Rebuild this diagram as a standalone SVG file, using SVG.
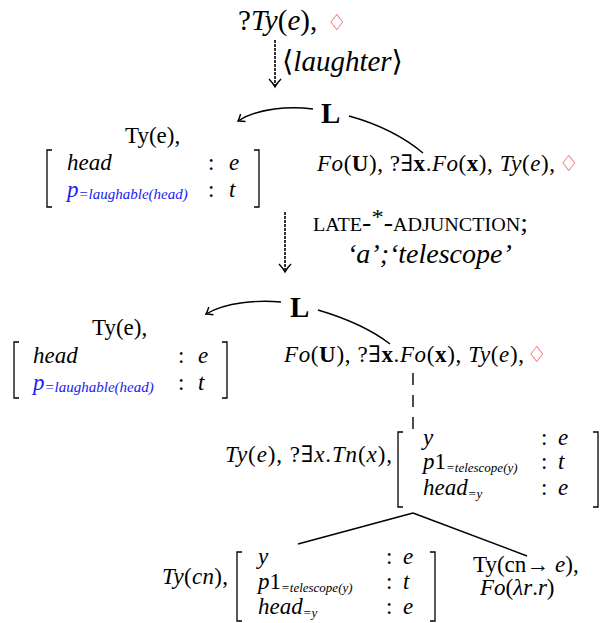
<svg xmlns="http://www.w3.org/2000/svg" width="603" height="623" viewBox="0 0 603 623">
<defs>
<style>
.t{font-family:"Liberation Serif","Times New Roman","DejaVu Serif",serif;font-size:23px;fill:#000}
.big{font-size:29px}
.i{font-style:italic}
.b{font-weight:bold}
.s{font-size:15px;font-style:italic}
.s2{font-size:13px;font-style:italic}
.blue{fill:#2020f0}
.dia{font-family:"DejaVu Sans",sans-serif;font-size:22px;fill:#ee1111}
.L{font-family:"Liberation Serif",serif;font-weight:bold;font-size:29px}
.sc{font-variant:small-caps;font-size:25px}
.br{fill:none;stroke:#000;stroke-width:1.3}
.ln{fill:none;stroke:#000;stroke-width:1.4}
.dash{fill:none;stroke:#000;stroke-width:1.6;stroke-dasharray:3 1}
</style>
<marker id="ah" markerWidth="12" markerHeight="12" refX="0" refY="0" viewBox="-8 -6 10 12" orient="auto" markerUnits="userSpaceOnUse">
<path d="M-6,-4.5 Q-2,-1 0,0 Q-2,1 -6,4.5" fill="none" stroke="#000" stroke-width="1.4"/>
</marker>
</defs>

<g id="n-top">
<text class="t big" x="238" y="30">?<tspan class="i">Ty</tspan>(<tspan class="i">e</tspan>),</text>
<text class="dia" x="327" y="30">♢</text>
</g>

<g id="step1">
<text class="t big" x="282" y="71">⟨<tspan class="i">laughter</tspan>⟩</text>
</g>

<g id="n-link1">
<text class="t" x="125" y="143">Ty(e),</text>
<path class="br" d="M52,150 H47 V207 H52"/>
<path class="br" d="M254,150 H259 V207 H254"/>
<text class="t i" x="67" y="170">head</text>
<text class="t" x="208" y="170">:</text>
<text class="t i" x="229" y="170">e</text>
<text class="t i blue" x="67" y="197">p<tspan class="s" dy="2">=laughable(head)</tspan></text>
<text class="t" x="208" y="197">:</text>
<text class="t i" x="229" y="197">t</text>
</g>

<g id="n-L1">
<text class="L" x="321" y="123">L</text>
</g>

<g id="n-root1">
<text class="t" x="317" y="171" textLength="238" lengthAdjust="spacing"><tspan class="i">Fo</tspan>(<tspan class="b">U</tspan>), ?∃<tspan class="b">x</tspan>.<tspan class="i">Fo</tspan>(<tspan class="b">x</tspan>), <tspan class="i">Ty</tspan>(<tspan class="i">e</tspan>),</text>
<text class="dia" x="559" y="171">♢</text>
</g>

<g id="step2">
<text class="t sc" x="313" y="231" textLength="215" lengthAdjust="spacingAndGlyphs">late-<tspan dy="-7" font-size="22" style="font-variant:normal">*</tspan><tspan dy="7">-adjunction;</tspan></text>
<text class="t i" x="347" y="263" style="font-size:28px">‘a’;‘telescope’</text>
</g>

<g id="n-link2">
<text class="t" x="92" y="335">Ty(e),</text>
<path class="br" d="M19,342 H14 V398 H19"/>
<path class="br" d="M222,342 H227 V398 H222"/>
<text class="t i" x="33" y="363">head</text>
<text class="t" x="178" y="363">:</text>
<text class="t i" x="198" y="363">e</text>
<text class="t i blue" x="33" y="390">p<tspan class="s" dy="2">=laughable(head)</tspan></text>
<text class="t" x="178" y="390">:</text>
<text class="t i" x="198" y="390">t</text>
</g>

<g id="n-L2">
<text class="L" x="290" y="317">L</text>
</g>

<g id="n-root2">
<text class="t" x="284" y="362" textLength="240" lengthAdjust="spacing"><tspan class="i">Fo</tspan>(<tspan class="b">U</tspan>), ?∃<tspan class="b">x</tspan>.<tspan class="i">Fo</tspan>(<tspan class="b">x</tspan>), <tspan class="i">Ty</tspan>(<tspan class="i">e</tspan>),</text>
<text class="dia" x="527" y="362">♢</text>
</g>

<g id="n-unfixed">
<text class="t" x="225" y="462" textLength="167" lengthAdjust="spacing"><tspan class="i">Ty</tspan>(<tspan class="i">e</tspan>), ?∃<tspan class="i">x</tspan>.<tspan class="i">Tn</tspan>(<tspan class="i">x</tspan>),</text>
<path class="br" d="M403,432 H398 V507 H403"/>
<path class="br" d="M593,432 H598 V507 H593"/>
<text class="t i" x="423" y="445">y</text>
<text class="t" x="423" y="469"><tspan class="i">p</tspan>1<tspan class="s2" dy="3">=telescope(y)</tspan></text>
<text class="t i" x="423" y="495">head<tspan class="s2" dy="3">=y</tspan></text>
<text class="t" x="541" y="445">:</text>
<text class="t" x="541" y="469">:</text>
<text class="t" x="541" y="495">:</text>
<text class="t i" x="558" y="445">e</text>
<text class="t i" x="558" y="469">t</text>
<text class="t i" x="558" y="495">e</text>
</g>

<g id="n-cn">
<text class="t" x="162" y="584" textLength="66" lengthAdjust="spacing"><tspan class="i">Ty</tspan>(<tspan class="i">cn</tspan>),</text>
<path class="br" d="M242,552 H237 V621 H242"/>
<path class="br" d="M430,552 H435 V621 H430"/>
<text class="t i" x="258" y="564">y</text>
<text class="t" x="258" y="589"><tspan class="i">p</tspan>1<tspan class="s2" dy="3">=telescope(y)</tspan></text>
<text class="t i" x="258" y="614">head<tspan class="s2" dy="3">=y</tspan></text>
<text class="t" x="386" y="564">:</text>
<text class="t" x="386" y="589">:</text>
<text class="t" x="386" y="614">:</text>
<text class="t i" x="403" y="564">e</text>
<text class="t i" x="403" y="589">t</text>
<text class="t i" x="403" y="614">e</text>
</g>

<g id="n-func">
<text class="t" x="473" y="572">Ty(cn→ <tspan class="i">e</tspan>),</text>
<text class="t" x="480" y="595"><tspan class="i">Fo</tspan>(<tspan class="i">λr</tspan>.<tspan class="i">r</tspan>)</text>
</g>

<g id="connectors">
<path class="dash" d="M275,40 V86"/>
<path class="ln" d="M269,79 Q273,83 275,87 Q277,83 281,79"/>
<path class="dash" d="M285,212 V271"/>
<path class="ln" d="M279,264 Q283,268 285,272 Q287,268 291,264"/>
<path class="ln" d="M313,109 C290,106 258,108 238,121" marker-end="url(#ah)"/>
<path class="ln" d="M349,116 C378,124 405,138 423,153"/>
<path class="ln" d="M281,302 C258,300 226,302 206,314" marker-end="url(#ah)"/>
<path class="ln" d="M318,310 C345,318 372,330 390,344"/>
<path class="ln" d="M413,373 V431" stroke-dasharray="12 10"/>
<path class="ln" d="M413,513 L298,544"/>
<path class="ln" d="M413,513 L527,556"/>
</g>
</svg>
